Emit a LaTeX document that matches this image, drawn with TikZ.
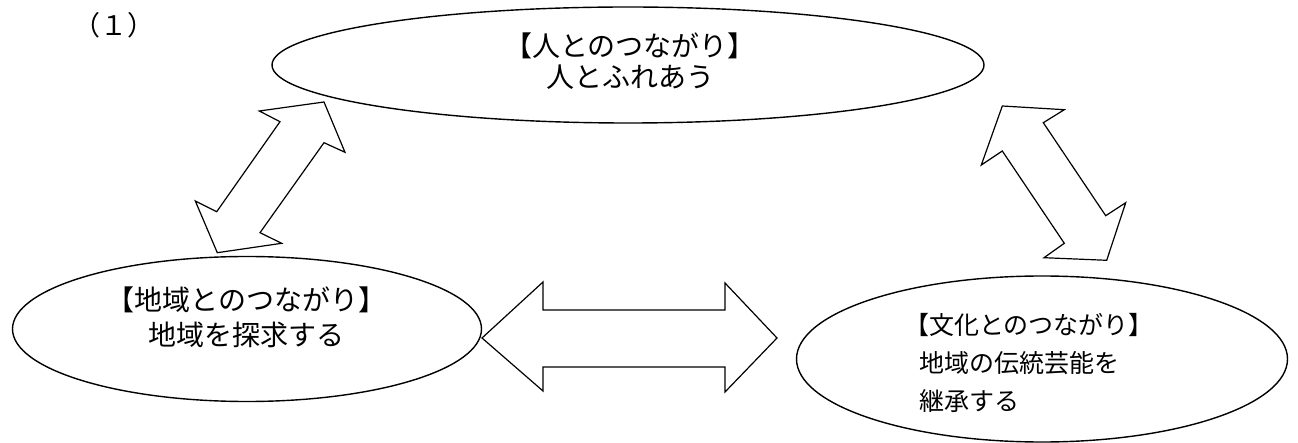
\documentclass[tikz,border=0pt]{standalone}
\usepackage{fontspec}
\newfontfamily\jp{Noto Sans CJK JP}
\usetikzlibrary{shapes.geometric}
\begin{document}
\begin{tikzpicture}[x=1pt,y=-1pt,
  oval/.style={draw, ellipse, line width=1.4pt, inner sep=0pt},
  blockarrow/.style={draw, line width=1.2pt, line join=miter},
  label/.style={inner sep=0pt, font=\jp}]
\useasboundingbox (0,0) rectangle (1298,443);
% ellipses
\node[oval, minimum width=712pt, minimum height=116pt] (ppl) at (628,65) {};
\node[oval, minimum width=469pt, minimum height=145pt] (area) at (247,329) {};
\node[oval, minimum width=491pt, minimum height=166pt] (cult) at (1042,359) {};
% texts
\node[label, font=\jp\fontsize{28}{31.5}\selectfont, align=center] (tppl) at (630,61) {【人とのつながり】\\人とふれあう};
\node[label, font=\jp\fontsize{28}{35}\selectfont, align=center] (tarea) at (246.5,317.5) {【地域とのつながり】\\地域を探求する};
\node[label, font=\jp\fontsize{25}{38}\selectfont, align=left, anchor=west] (tcult) at (919,363) {\hspace*{-0.6em}【文化とのつながり】\\地域の伝統芸能を\\継承する};
\node[label, font=\jp\fontsize{27}{32}\selectfont] (num) at (114,25) {（１）};
% block arrows
\draw[blockarrow] (324,102) -- (345,152.3) -- (324,142.7) -- (260,232.7) -- (281.7,243.3)
  -- (217.3,252.7) -- (195.3,201) -- (216.7,211.7) -- (280,121.7) -- (259.3,111) -- cycle;
\draw[blockarrow] (1002.3,106) -- (1064.3,109.7) -- (1043.3,122.7) -- (1105.7,215.7) -- (1125.7,202.7)
  -- (1106.7,260.3) -- (1044,257.7) -- (1064.3,243.3) -- (1002.3,151) -- (981.3,165) -- cycle;
\draw[blockarrow] (482,338) -- (543,282) -- (543,310) -- (725,310) -- (725,283) -- (777,338)
  -- (725,392) -- (725,367) -- (543,367) -- (543,391) -- cycle;
\end{tikzpicture}
\end{document}
